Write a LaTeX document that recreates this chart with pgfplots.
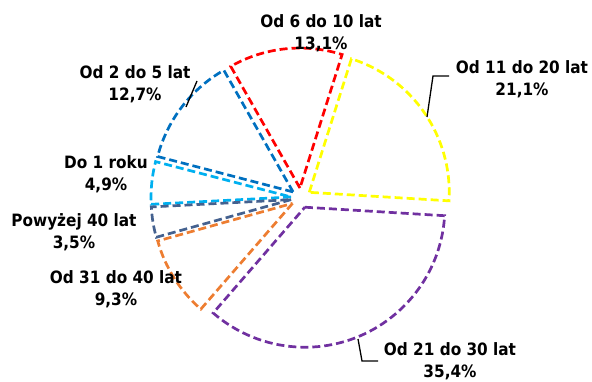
\documentclass[border=0pt]{standalone}
\usepackage{pgfplots}
\pgfplotsset{compat=1.18}
\usepackage{pgfplotstable}
\usepackage{fontspec}
\setmainfont{DejaVu Sans Condensed}

% slice outline colours, in the order of the table rows
\definecolor{c0}{HTML}{00B0F0} % Do 1 roku
\definecolor{c1}{HTML}{0070C0} % Od 2 do 5 lat
\definecolor{c2}{HTML}{FF0000} % Od 6 do 10 lat
\definecolor{c3}{HTML}{FFFF00} % Od 11 do 20 lat
\definecolor{c4}{HTML}{7030A0} % Od 21 do 30 lat
\definecolor{c5}{HTML}{ED7D31} % Od 31 do 40 lat
\definecolor{c6}{HTML}{44618F} % Powyzej 40 lat

% share of each group, in percent
\pgfplotstableread{
share
4.9
12.7
13.1
21.1
35.4
9.3
3.5
}\agedata

% start, end and middle angle of every slice (clockwise from 183 degrees)
\pgfmathsetmacro\cumangle{183}
\foreach \i in {0,...,6}{
  \pgfplotstablegetelem{\i}{share}\of\agedata
  \pgfmathsetmacro\endangle{\cumangle-3.6*\pgfplotsretval}
  \pgfmathsetmacro\midangle{(\cumangle+\endangle)/2}
  \expandafter\xdef\csname sa\i\endcsname{\cumangle}
  \expandafter\xdef\csname ea\i\endcsname{\endangle}
  \expandafter\xdef\csname ma\i\endcsname{\midangle}
  \xdef\cumangle{\endangle}
}

\begin{document}
\begin{tikzpicture}[
  slice/.style={line width=2.7bp, dash pattern=on 8bp off 4bp, line join=miter},
  lbl/.style={font=\fontsize{17bp}{22bp}\selectfont\bfseries, align=center, inner sep=0pt},
  leader/.style={black, line width=1.3bp}]
\begin{axis}[hide axis, scale only axis, width=592bp, height=382bp,
  xmin=0, xmax=592, ymin=0, ymax=382, clip=false]
\pgfplotsinvokeforeach{0,...,6}{
  \draw[slice, c#1] (axis cs:301,184) ++(\csname ma#1\endcsname:10bp)
    -- ++(\csname sa#1\endcsname:140bp)
    arc[start angle=\csname sa#1\endcsname, end angle=\csname ea#1\endcsname, radius=140bp]
    -- cycle;
}
% leader lines
\draw[leader] (axis cs:449,306) -- (axis cs:433,306) -- (axis cs:427,265);
\draw[leader] (axis cs:197,301) -- (axis cs:186,275);
\draw[leader] (axis cs:378,21) -- (axis cs:362,21) -- (axis cs:358,43);
% data labels
\node[lbl] at (axis cs:321,349) {Od 6 do 10 lat\\13,1\%};
\node[lbl] at (axis cs:522,303) {Od 11 do 20 lat\\21,1\%};
\node[lbl] at (axis cs:450,20.5) {Od 21 do 30 lat\\35,4\%};
\node[lbl] at (axis cs:116,93) {Od 31 do 40 lat\\9,3\%};
\node[lbl] at (axis cs:74,150) {Powyżej 40 lat\\3,5\%};
\node[lbl] at (axis cs:106,208) {Do 1 roku\\4,9\%};
\node[lbl] at (axis cs:135,297.5) {Od 2 do 5 lat\\12,7\%};
\end{axis}
\pgfresetboundingbox
\path (current axis.south west) rectangle (current axis.north east);
\end{tikzpicture}
\end{document}
